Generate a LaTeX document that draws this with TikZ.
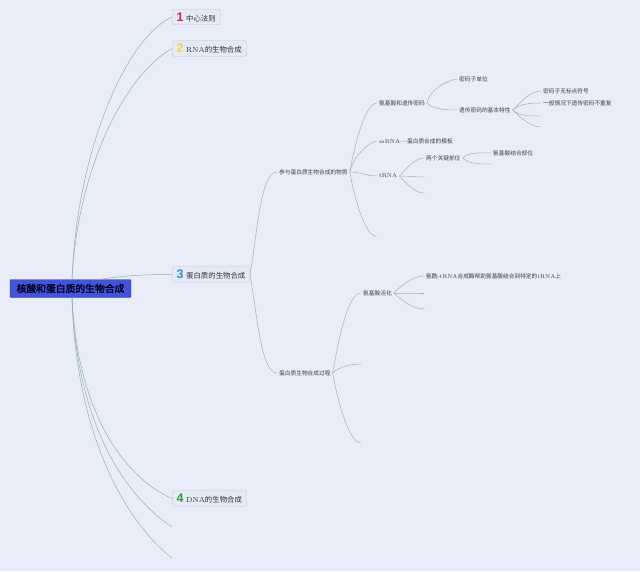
\documentclass[tikz,border=0pt]{standalone}
\usepackage{fontspec}
\newfontfamily\cjk{Noto Sans CJK SC}[AutoFakeBold=2]
\newfontfamily\numfont{Liberation Sans}
\usetikzlibrary{positioning}
\definecolor{bgcol}{HTML}{E9EDF9}
\definecolor{rootcol}{HTML}{4454D8}
\definecolor{rootline}{HTML}{94B0B4}
\definecolor{brline}{HTML}{A7AEB8}
\definecolor{topiccol}{HTML}{E4EAF6}
\definecolor{numa}{HTML}{D7264C}
\definecolor{numb}{HTML}{F2D64B}
\definecolor{numc}{HTML}{2F8FD6}
\definecolor{numd}{HTML}{2E9E35}
\tikzset{
  rootbox/.style={draw=rootcol!80!black, fill=rootcol, rounded corners=1pt,
    minimum width=121pt, minimum height=18pt, text=black!85!blue,
    font=\cjk\bfseries\fontsize{9.8}{10}\selectfont},
  topic/.style={draw=gray!45, fill=topiccol, rounded corners=1.5pt, anchor=west,
    minimum height=15.5pt, inner xsep=4.5pt, inner ysep=1pt, text=black!80,
    font=\cjk\fontsize{7.4}{8}\selectfont},
  leaf/.style={anchor=west, inner sep=2pt, text=black!75,
    font=\cjk\fontsize{5.7}{6}\selectfont},
  rootlink/.style={draw=rootline, line width=0.5pt},
  link/.style={draw=brline, line width=0.5pt},
  brup/.style={out=80, in=180, in looseness=0.4},
  brdn/.style={out=-80, in=180, in looseness=0.4},
  brsup/.style={out=45, in=180, looseness=0.8},
  brsdn/.style={out=-45, in=180, looseness=0.8},
  brmid/.style={out=0, in=180},
}
\newcommand{\topicnum}[2]{\textcolor{#1}{\numfont\bfseries\fontsize{12.5}{12}\selectfont #2}\hspace{2.5pt}}
\begin{document}
\begin{tikzpicture}[x=1pt,y=1pt]
    \fill[bgcol] (0,0) rectangle (640,-571);
    % 中心主题
    \node[rootbox] (root) at (70.5,-288.5) {核酸和蛋白质的生物合成};
    % 一级分支
    \node[topic] (t1) at (172,-17) {\topicnum{numa}{1}中心法则};
    \node[topic] (t2) at (172,-48.5) {\topicnum{numb}{2}{\rmfamily RNA}的生物合成};
    \node[topic] (t3) at (172,-274.5) {\topicnum{numc}{3}蛋白质的生物合成};
    \node[topic] (t4) at (172,-498.5) {\topicnum{numd}{4}{\rmfamily DNA}的生物合成};
    \coordinate (t5) at (172,-527);
    \coordinate (t6) at (172,-558);
    \draw[rootlink] ([xshift=1.5pt]root.north) .. controls +(5,130) and +(-45,-20) .. (t1.west);
    \draw[rootlink] ([xshift=1.5pt]root.north) .. controls +(6,115) and +(-45,-25) .. (t2.west);
    \draw[rootlink] ([xshift=30pt]root.north) .. controls +(25,4) and +(-25,0) .. (t3.west);
    \draw[rootlink] ([xshift=1.5pt]root.south) .. controls +(6,-120) and +(-45,20) .. (t4.west);
    \draw[rootlink] ([xshift=1.5pt]root.south) .. controls +(5,-130) and +(-45,30) .. (t5);
    \draw[rootlink] ([xshift=1.5pt]root.south) .. controls +(4,-140) and +(-45,35) .. (t6);
    % 二级分支
    \node[leaf] (s1) at (277,-172) {参与蛋白质生物合成的物质};
    \node[leaf] (s2) at (277,-373) {蛋白质生物合成过程};
    \draw[link] (t3.east) to[brup] (s1.west);
    \draw[link] (t3.east) to[brdn] (s2.west);
    % 参与蛋白质生物合成的物质
    \node[leaf] (a1) at (377,-103) {氨基酸和遗传密码};
    \node[leaf] (a2) at (377,-141) {{\rmfamily mRNA---}蛋白质合成的模板};
    \node[leaf] (a3) at (377,-176) {{\rmfamily tRNA}};
    \coordinate (a4) at (376,-236);
    \draw[link] (s1.east) to[brup] (a1.west);
    \draw[link] (s1.east) to[brup] (a2.west);
    \draw[link] (s1.east) to[brmid] (a3.west);
    \draw[link] (s1.east) to[brdn] (a4);
    % 氨基酸和遗传密码
    \node[leaf] (b1) at (457,-79) {密码子单位};
    \node[leaf] (b2) at (457,-110) {遗传密码的基本特性};
    \draw[link] (a1.east) to[brup] (b1.west);
    \draw[link] (a1.east) to[brsdn] (b2.west);
    \node[leaf] (c1) at (541,-91) {密码子无标点符号};
    \node[leaf] (c2) at (541,-103) {一般情况下遗传密码不重复};
    \coordinate (c3) at (541,-116);
    \coordinate (c4) at (541,-127);
    \draw[link] (b2.east) to[brsup] (c1.west);
    \draw[link] (b2.east) to[brsup] (c2.west);
    \draw[link] (b2.east) to[brsdn] (c3);
    \draw[link] (b2.east) to[brsdn] (c4);
    % tRNA
    \node[leaf] (d1) at (424,-158) {两个关键部位};
    \coordinate (d2) at (424,-177);
    \coordinate (d3) at (424,-193);
    \draw[link] (a3.east) to[brsup] (d1.west);
    \draw[link] (a3.east) to[brmid] (d2);
    \draw[link] (a3.east) to[brsdn] (d3);
    \node[leaf] (e1) at (491,-153) {氨基酸结合部位};
    \coordinate (e2) at (491,-164);
    \draw[link] (d1.east) to[brsup] (e1.west);
    \draw[link] (d1.east) to[brsdn] (e2);
    % 蛋白质生物合成过程
    \node[leaf] (f1) at (361,-293) {氨基酸活化};
    \coordinate (f2) at (361,-364);
    \coordinate (f3) at (361,-443);
    \draw[link] (s2.east) to[brup] (f1.west);
    \draw[link] (s2.east) to[brsup] (f2);
    \draw[link] (s2.east) to[brdn] (f3);
    \node[leaf] (g1) at (424,-276) {氨酰-{\rmfamily tRNA}合成酶帮助氨基酸结合到特定的{\rmfamily tRNA}上};
    \coordinate (g2) at (424,-293);
    \coordinate (g3) at (424,-309);
    \draw[link] (f1.east) to[brsup] (g1.west);
    \draw[link] (f1.east) to[brmid] (g2);
    \draw[link] (f1.east) to[brsdn] (g3);
\end{tikzpicture}
\end{document}
